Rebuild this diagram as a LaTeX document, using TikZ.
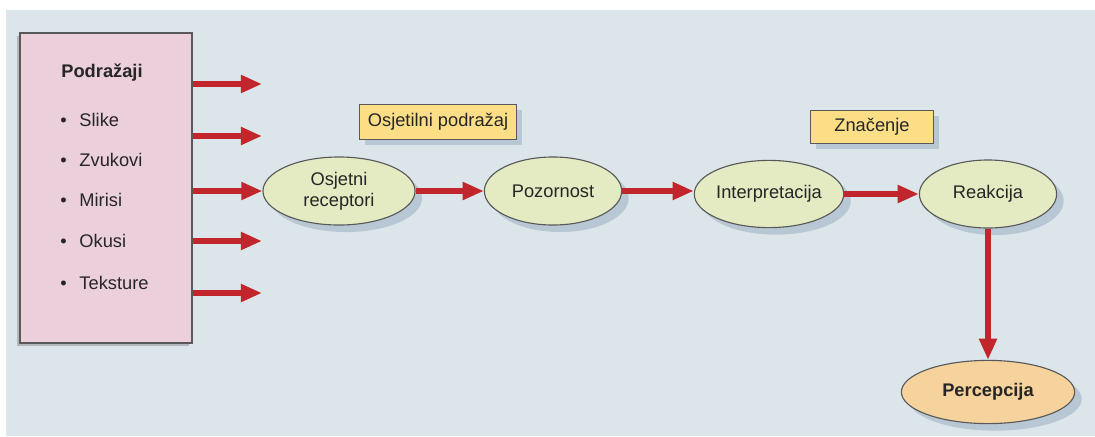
\documentclass[tikz,border=0pt]{standalone}
\usepackage{fontspec}
\setmainfont{Liberation Sans}
\usepackage{xcolor}
\usepackage{tikz}
\usetikzlibrary{positioning,shapes.geometric,shadows,arrows.meta}

\definecolor{bgblue}{HTML}{DCE5EA}
\definecolor{stimpink}{HTML}{EBCFDB}
\definecolor{stagegreen}{HTML}{E4EBC3}
\definecolor{percorange}{HTML}{F6D39C}
\definecolor{labelyellow}{HTML}{FBDE86}
\definecolor{arrowred}{HTML}{C0262C}
\definecolor{shadowblue}{HTML}{9FB3C4}

\begin{document}
\begin{tikzpicture}[
        x = 0.025cm,
        y = -0.025cm,
        font = \fontsize{13}{15}\selectfont,
        text = black!85
    ]
    \tikzstyle{stage} = [ellipse, draw=black!65, thick, fill=stagegreen, align=center,
        inner sep=0pt, minimum height=1.7cm,
        drop shadow={shadow xshift=5pt, shadow yshift=-5pt, fill=shadowblue, opacity=0.6}];
    \tikzstyle{tag} = [draw=black!65, thick, fill=labelyellow, inner sep=0pt,
        drop shadow={shadow xshift=4pt, shadow yshift=-4pt, fill=shadowblue, opacity=0.6}];
    \tikzstyle{item} = [anchor=west, inner sep=0pt];
    \tikzstyle{flow} = [arrowred, line width=4pt, -{Triangle[length=15pt, width=12pt]}];

    % background
    \fill [white] (0,0) rectangle (1095,436);
    \fill [bgblue] (6,10) rectangle (1095,436);
    \useasboundingbox (0,0) rectangle (1095,436);

    % stimuli
    \node [draw=black!65, thick, fill=stimpink, minimum width=4.3cm, minimum height=7.75cm,
        drop shadow={shadow xshift=-2pt, shadow yshift=-2pt, fill=black!40, opacity=0.6}]
        (stim) at (106,188) {};
    \node [font=\fontsize{13}{15}\selectfont\bfseries] (podr) at (102,73) {Podražaji};
    \node [item] (slike) at (60,120) {\textbullet\hspace{0.7em}Slike};
    \node [item] (zvuk) at (60,160) {\textbullet\hspace{0.7em}Zvukovi};
    \node [item] (miris) at (60,200) {\textbullet\hspace{0.7em}Mirisi};
    \node [item] (okus) at (60,241) {\textbullet\hspace{0.7em}Okusi};
    \node [item] (tekst) at (60,283) {\textbullet\hspace{0.7em}Teksture};

    % stages
    \node [stage, minimum width=3.8cm] (recep) at (339,191) {Osjetni\\receptori};
    \node [stage, minimum width=3.43cm] (pozor) at (553,191) {Pozornost};
    \node [stage, minimum width=3.7cm, minimum height=1.68cm] (interp) at (769,194) {Interpretacija};
    \node [stage, minimum width=3.43cm] (reakc) at (988,194) {Reakcija};
    \node [stage, fill=percorange, minimum width=4.33cm, minimum height=1.58cm,
        font=\fontsize{13}{15}\selectfont\bfseries] (perc) at (988,392) {Percepcija};

    % labels
    \node [tag, minimum width=3.92cm, minimum height=0.87cm] (osjet) at (438,122) {Osjetilni podražaj};
    \node [tag, minimum width=3.08cm, minimum height=0.83cm] (znac) at (872,127) {Značenje};

    % arrows
    \coordinate (a1) at (262,84);
    \coordinate (a2) at (262,136);
    \coordinate (a4) at (262,241);
    \coordinate (a5) at (262,293);
    \draw [flow] (stim.east |- a1) -- (a1);
    \draw [flow] (stim.east |- a2) -- (a2);
    \draw [flow] (stim.east |- recep.west) -- (recep.west);
    \draw [flow] (stim.east |- a4) -- (a4);
    \draw [flow] (stim.east |- a5) -- (a5);
    \draw [flow] (recep) -- (pozor);
    \draw [flow] (pozor.east) -- (pozor.east -| interp.west);
    \draw [flow] (interp) -- (reakc);
    \draw [flow] (reakc) -- (perc);
\end{tikzpicture}
\end{document}
